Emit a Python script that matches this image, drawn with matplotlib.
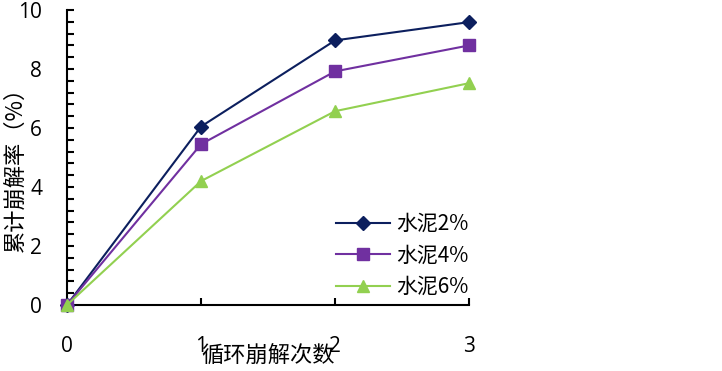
import matplotlib.pyplot as plt
from matplotlib.ticker import MultipleLocator

plt.rcParams['font.family'] = ['Open Sans', 'Noto Sans CJK SC', 'DejaVu Sans']

cycles = [0, 1, 2, 3]
cement_2 = [0, 6.05, 8.97, 9.59]
cement_4 = [0, 5.45, 7.92, 8.80]
cement_6 = [0, 4.20, 6.57, 7.52]
labels = ['水泥2%', '水泥4%', '水泥6%']

fig = plt.figure(figsize=(7.22, 3.71), dpi=100)
ax = fig.add_axes([0.0928, 0.178, 0.557, 0.795])

ax.plot(cycles, cement_2, color='#0C1F5E', lw=1.5, marker='D', ms=7,
        label=labels[0], clip_on=False, zorder=3)
ax.plot(cycles, cement_4, color='#7030A0', lw=1.5, marker='s', ms=9,
        label=labels[1], clip_on=False, zorder=3)
ax.plot(cycles, cement_6, color='#92D050', lw=1.5, marker='^', ms=9,
        label=labels[2], clip_on=False, zorder=3)

ax.set_xlim(0, 3)
ax.set_ylim(0, 10)
ax.xaxis.set_major_locator(MultipleLocator(1))
ax.yaxis.set_major_locator(MultipleLocator(2))
ax.yaxis.set_minor_locator(MultipleLocator(0.4))

for s in ['top', 'right']:
    ax.spines[s].set_visible(False)
for s in ['left', 'bottom']:
    ax.spines[s].set_linewidth(1.5)

ax.tick_params(axis='y', which='both', direction='in', length=5, width=1.5,
               labelsize=15, pad=18)
ax.tick_params(axis='x', which='both', direction='in', length=5, width=1.5,
               labelsize=15, pad=22)

# axis titles
ax.set_xlabel('循环崩解次数', fontsize=16, family=['Noto Sans CJK SC'])
ax.xaxis.set_label_coords(0.5, -0.13)
ax.set_ylabel('累计崩解率（%）', fontsize=16, family=['Noto Sans CJK SC'])
ax.yaxis.set_label_coords(-0.1, 0.48)

leg = ax.legend(loc='lower right', bbox_to_anchor=(1.045, -0.04), frameon=False,
                handlelength=2.6, labelspacing=0.45, handletextpad=0.3,
                prop={'family': ['Noto Sans CJK SC'], 'size': 15})

fig.savefig('out.png', dpi=100)
